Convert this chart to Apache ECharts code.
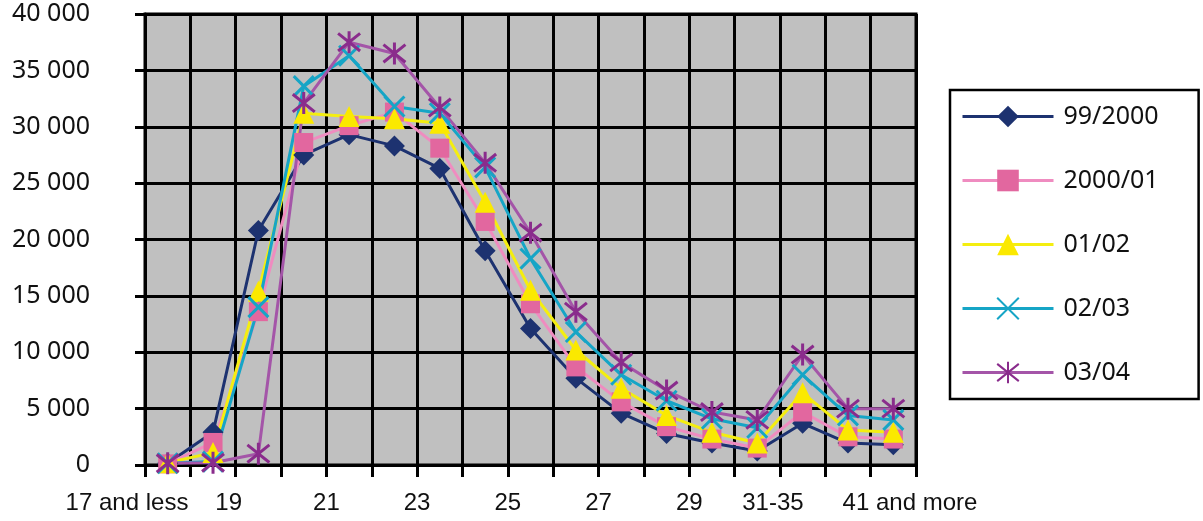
<!DOCTYPE html>
<html>
<head>
<meta charset="utf-8">
<script src="https://cdn.jsdelivr.net/npm/echarts@6/dist/echarts.min.js"></script>
<style>
  html, body { margin: 0; padding: 0; background: #fff; }
  #chart { width: 1203px; height: 521px; }
</style>
</head>
<body>
<div id="chart"></div>
<script>
// age groups, one point each
const categories = ['17 and less', '18', '19', '20', '21', '22', '23', '24', '25', '26', '27', '28', '29', '30', '31-35', '36-40', '41 and more']
// labels sit on the category boundaries (18 of them)
const tickLabels = ['17 and less', '', '19', '', '21', '', '23', '', '25', '', '27', '', '29', '', '31-35', '', '', '41 and more']
const yTicks = [0, 5000, 10000, 15000, 20000, 25000, 30000, 35000, 40000]

const seriesNames = ['99/2000', '2000/01', '01/02', '02/03', '03/04']
const y9900 = [150, 2900, 20800, 27500, 29300, 28300, 26300, 19000, 12100, 7700, 4600, 2800, 1950, 1250, 3700, 1950, 1800]
const y0001 = [100, 2000, 13600, 28600, 30100, 31300, 28100, 21600, 14300, 8700, 5600, 3400, 2300, 1500, 4700, 2500, 2300]
const y0102 = [200, 1100, 15400, 31200, 30900, 30700, 30300, 23300, 15500, 10200, 6800, 4400, 2900, 1950, 6400, 3100, 2900]
const y0203 = [150, 300, 14000, 33600, 36300, 31800, 31200, 26400, 18300, 11800, 8000, 5700, 4100, 3300, 8000, 4400, 4000]
const y0304 = [150, 200, 1000, 32100, 37500, 36500, 31700, 26800, 20600, 13600, 9100, 6600, 4700, 4000, 9800, 5000, 5000]

const X_PATH = 'path://M0 0L20 20M20 0L0 20'
const STAR_PATH = 'path://M2 2L18 18M18 2L2 18M10 0L10 20'

const chart = echarts.init(document.getElementById('chart'))

function makeSeries(name, data, symbol, size, markColor, lineColor, stroke) {
  return {
    name,
    type: 'line',
    data,
    symbol,
    symbolSize: size,
    showSymbol: true,
    animation: false,
    lineStyle: { color: lineColor, width: 3 },
    itemStyle: stroke
      ? { color: markColor, borderColor: markColor, borderWidth: 3 }
      : { color: markColor, borderWidth: 0 },
    emphasis: { disabled: true },
  }
}

chart.setOption({
  animation: false,
  grid: {
    left: 145, right: 287, top: 14, bottom: 56,
    show: true,
    backgroundColor: '#c0c0c0',
    borderColor: '#000',
    borderWidth: 3,
  },
  legend: {
    orient: 'vertical',
    left: 950,
    top: 90,
    itemWidth: 91,
    itemHeight: 27,
    itemGap: 39,
    padding: [14, 40, 14, 11],
    backgroundColor: '#fff',
    borderColor: '#000',
    borderWidth: 2.5,
    borderRadius: 0,
    lineStyle: { width: 3 },
    textStyle: { fontFamily: 'Noto Sans', fontSize: 25, color: '#111', padding: [0, 0, 0, 5] },
    data: seriesNames,
  },
  xAxis: [
    {
      type: 'category',
      data: categories,
      boundaryGap: true,
      axisLine: { lineStyle: { color: '#000', width: 3 } },
      axisTick: { show: true, interval: 0, length: 12, lineStyle: { color: '#000', width: 3 } },
      axisLabel: { show: false },
      splitLine: { show: true, interval: 0, lineStyle: { color: '#000', width: 3 } },
    },
    {
      type: 'category',
      data: tickLabels,
      boundaryGap: false,
      position: 'bottom',
      axisLine: { show: false },
      axisTick: { show: false },
      splitLine: { show: false },
      axisLabel: {
        interval: 0,
        margin: 26,
        fontFamily: 'Liberation Sans',
        fontSize: 24,
        color: '#111',
        formatter: (v) => {
          if (v === '17 and less') return '{a|' + v + '}'
          if (v === '31-35' || v === '19') return '{b|' + v + '}'
          if (v === '41 and more') return '{c|' + v + '}'
          return v
        },
        rich: {
          a: { padding: [0, 36, 0, 0] },
          b: { padding: [0, 14, 0, 0] },
          c: { padding: [0, 12, 0, 0] },
        },
      },
    },
  ],
  yAxis: {
    type: 'value',
    min: yTicks[0],
    max: yTicks[yTicks.length - 1],
    interval: yTicks[1] - yTicks[0],
    axisLine: { show: true, lineStyle: { color: '#000', width: 3 } },
    axisTick: { show: true, length: 10, lineStyle: { color: '#000', width: 3 } },
    axisLabel: {
      margin: 55,
      fontFamily: 'Noto Sans',
      fontSize: 25,
      color: '#111',
      formatter: (v) => (v === 0 ? '0' : (v / 1000) + ' 000'),
    },
    splitLine: { show: true, lineStyle: { color: '#000', width: 3 } },
  },
  series: [
    makeSeries(seriesNames[0], y9900, 'diamond', 21, '#1d3270', '#1d3270', false),
    makeSeries(seriesNames[1], y0001, 'rect', 19, '#e2679f', '#ef8cc0', false),
    makeSeries(seriesNames[2], y0102, 'triangle', 21, '#fbe900', '#f4ee10', false),
    makeSeries(seriesNames[3], y0203, X_PATH, 20, '#16a5c6', '#16a5c6', true),
    makeSeries(seriesNames[4], y0304, STAR_PATH, 22, '#8a2c8c', '#a455a8', true),
  ],
})
</script>
</body>
</html>
